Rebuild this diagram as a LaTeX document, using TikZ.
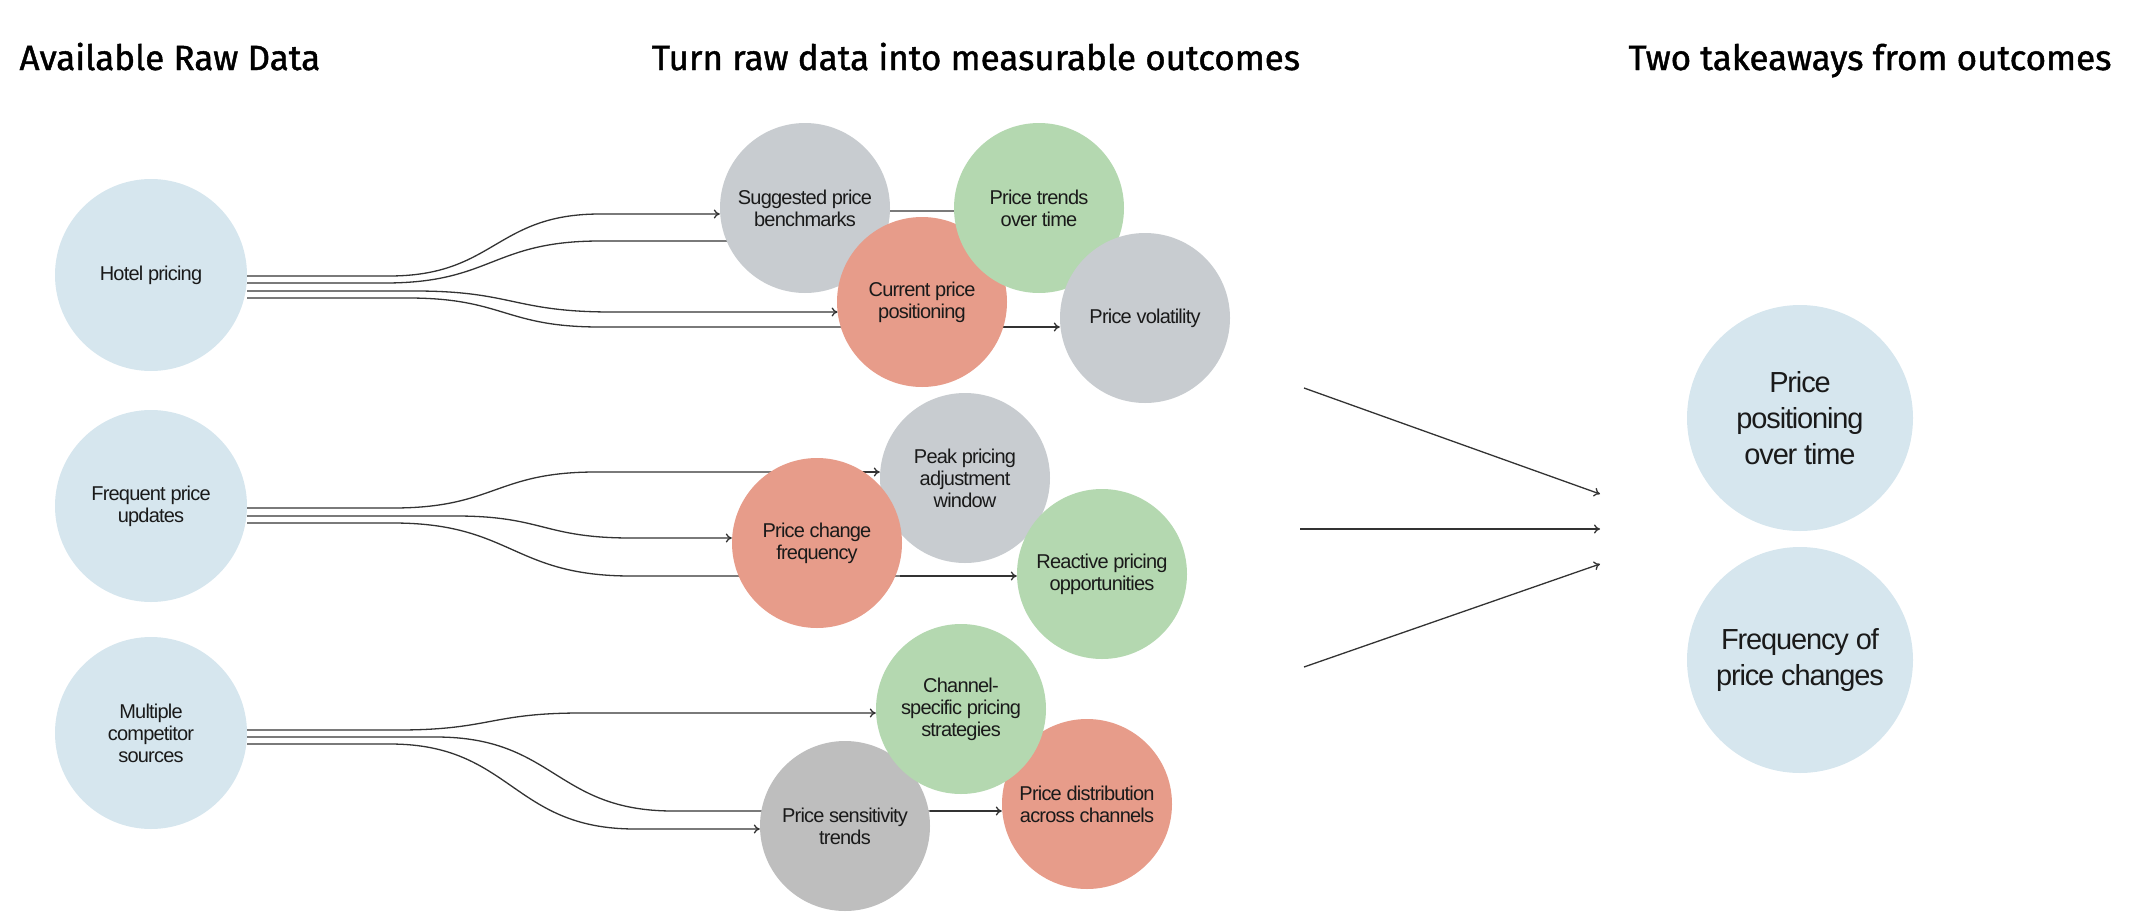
\documentclass[tikz,border=0pt]{standalone}
\usepackage{fontspec}
\setmainfont{Liberation Sans}[LetterSpace=-4]
\newfontfamily\titlefont{Fira Sans}[FakeBold=1.2]
\usetikzlibrary{arrows.meta,backgrounds}
\definecolor{lblue}{HTML}{D6E6EE}
\definecolor{gray1}{HTML}{C8CCD0}
\definecolor{gray2}{HTML}{BEBEBE}
\definecolor{green1}{HTML}{B4D8B0}
\definecolor{salmon}{HTML}{E79C8A}
\definecolor{txt}{HTML}{1A1A1A}
\definecolor{linec}{HTML}{333333}
\tikzset{
  bub/.style={circle, minimum size=170pt, inner sep=0pt, align=center, text=txt,
    font=\fontsize{20}{22}\selectfont},
  src/.style={bub, minimum size=192pt, fill=lblue},
  big/.style={circle, minimum size=226pt, inner sep=0pt, align=center, text=txt, fill=lblue,
    font=\fontsize{29}{36}\selectfont},
  ttl/.style={anchor=base, text=black, font=\titlefont\fontsize{35}{40}\selectfont},
  conn/.style={draw=linec, line width=1.3pt},
  arr/.style={conn, -{To[length=6pt,width=9pt]}},
}
\begin{document}
\begin{tikzpicture}[x=1pt,y=-1pt]
\useasboundingbox (0,0) rectangle (2148,924);
% titles
\node[ttl, anchor=base west] (t1) at (16,70) {Available Raw Data};
\node[ttl] (t2) at (976,70) {Turn raw data into measurable outcomes};
\node[ttl] (t3) at (1870,70) {Two takeaways from outcomes};
% sources
\node[src] (hotel) at (151,275) {Hotel pricing};
\node[src] (freq) at (151,506) {Frequent price\\updates};
\node[src] (multi) at (151,733) {Multiple\\competitor\\sources};
% section 1
\node[bub, fill=gray1] (sugg) at (805,208) {Suggested price\\benchmarks};
\node[bub, fill=salmon] (curr) at (922,302) {Current price\\positioning};
\node[bub, fill=green1] (trend) at (1039,208) {Price trends\\over time};
\node[bub, fill=gray1] (vol) at (1145,318) {Price volatility};
% section 2
\node[bub, fill=gray1] (peak) at (965,478) {Peak pricing\\adjustment\\window};
\node[bub, fill=salmon] (pcf) at (817,543) {Price change\\frequency};
\node[bub, fill=green1] (react) at (1102,574) {Reactive pricing\\opportunities};
% section 3
\node[bub, fill=gray2] (sens) at (845,826) {Price sensitivity\\trends};
\node[bub, fill=salmon] (dist) at (1087,804) {Price distribution\\across channels};
\node[bub, fill=green1] (chan) at (961,709) {Channel-\\specific pricing\\strategies};
% takeaways
\node[big] (pos) at (1800,418) {Price\\positioning\\over time};
\node[big] (fpc) at (1800,660) {Frequency of\\price changes};
% free ends of the right arrows
\coordinate (r1s) at (1304,388);
\coordinate (r1e) at (1600,494);
\coordinate (r2s) at (1300,529);
\coordinate (r2e) at (1600,529);
\coordinate (r3s) at (1304,667);
\coordinate (r3e) at (1600,564);
\begin{pgfonlayer}{background}
% hotel pricing
\draw[arr] ([yshift=-1pt]hotel.east) -- (389,276) .. controls (495,276) and (495,214) .. (600,214) -- ([yshift=-6pt]sugg.west);
\draw[conn] ([yshift=-8pt]hotel.east) -- (385,283) .. controls (492,283) and (492,241) .. (600,241) -- (770,241) .. controls (800,241) and (800,211) .. (840,211) -- ([yshift=-3pt]trend.west);
\draw[arr] ([yshift=-16pt]hotel.east) -- (415,291) .. controls (513,291) and (513,312) .. (612,312) -- (837.6,312);
\draw[conn] ([yshift=-23pt]hotel.east) -- (408,298) .. controls (504,298) and (504,327) .. (600,327) -- (1000,327);
\draw[arr] (1000,327) -- ([yshift=-9pt]vol.west);
% frequent price updates
\draw[conn] ([yshift=-2pt]freq.east) -- (393,508) .. controls (495,508) and (495,472) .. (596,472) -- (860,472);
\draw[arr] (860,472) -- ([yshift=6pt]peak.west);
\draw[arr] ([yshift=-10pt]freq.east) -- (456,516) .. controls (543,516) and (543,538) .. (631,538) -- ([yshift=5pt]pcf.west);
\draw[conn] ([yshift=-17pt]freq.east) -- (393,523) .. controls (512,523) and (512,576) .. (631,576) -- (900,576);
\draw[arr] (900,576) -- ([yshift=-2pt]react.west);
% multiple competitor sources
\draw[arr] ([yshift=3pt]multi.east) -- (398,730) .. controls (490,730) and (490,713) .. (581,713) -- ([yshift=-4pt]chan.west);
\draw[conn] ([yshift=-4pt]multi.east) -- (436,737) .. controls (555,737) and (555,811) .. (673,811) -- (930,811);
\draw[arr] (930,811) -- ([yshift=-7pt]dist.west);
\draw[arr] ([yshift=-11pt]multi.east) -- (390,744) .. controls (512,744) and (512,829) .. (635,829) -- ([yshift=-3pt]sens.west);
\end{pgfonlayer}
% right arrows
\draw[arr] (r1s) -- (r1e);
\draw[arr] (r2s) -- (r2e);
\draw[arr] (r3s) -- (r3e);
\end{tikzpicture}
\end{document}
